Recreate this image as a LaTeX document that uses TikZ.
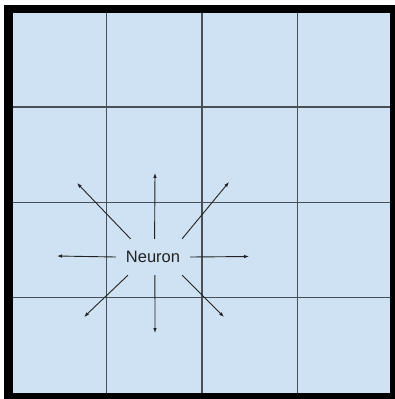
\documentclass[tikz,border=0pt]{standalone}
\usepackage{fontspec}
\setmainfont{Liberation Sans}
\usetikzlibrary{arrows.meta}
\definecolor{cellblue}{HTML}{CFE2F3}
\definecolor{gridgray}{HTML}{4A4F55}
\definecolor{inkdark}{HTML}{222222}

\begin{document}
\begin{tikzpicture}[x=1pt,y=-1pt,>={Latex[length=5pt,width=3.6pt]}]
\tikzstyle{g}=[gridgray,line width=1.3pt]
\tikzstyle{ray}=[->,inkdark,line width=0.9pt]
\useasboundingbox (0,0) rectangle (395,399);
\fill[black] (4,5) rectangle (395,399);
\fill[cellblue] (13,13) rectangle (390,393);
\foreach \x in {106.5,202,297.5} \draw[g] (\x,13) -- (\x,393);
\foreach \y in {107,202.7,297.7} \draw[g] (13,\y) -- (390,\y);
\node[minimum width=74pt,minimum height=36pt,inner sep=0pt,text=inkdark,
  font=\fontsize{16.5}{20}\selectfont] (neuron) at (153,257) {Neuron};
\coordinate (up) at (155,173);
\coordinate (down) at (155,333);
\coordinate (left) at (57,256);
\coordinate (right) at (249,256.5);
\coordinate (ul) at (77,183);
\coordinate (ur) at (229,182);
\coordinate (dl) at (84,317);
\coordinate (dr) at (224,317);
\draw[ray] (neuron.85) -- (up);
\draw[ray] (neuron.-84) -- (down);
\draw[ray] (neuron.west) -- (left);
\draw[ray] (neuron.east) -- (right);
\draw[ray] (neuron.141) -- (ul);
\draw[ray] (neuron.32) -- (ur);
\draw[ray] (neuron.216) -- (dl);
\draw[ray] (neuron.-32) -- (dr);
\end{tikzpicture}
\end{document}
